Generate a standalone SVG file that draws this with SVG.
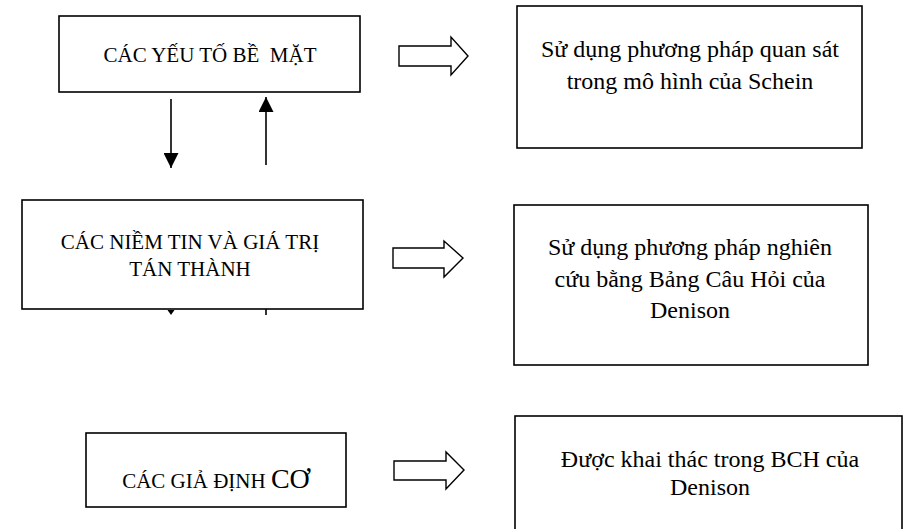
<svg xmlns="http://www.w3.org/2000/svg" width="908" height="529" viewBox="0 0 908 529">
<style>
.box{fill:#fff;stroke:#000;stroke-width:1.6}
.t{font-family:"Liberation Serif","Times New Roman",serif;fill:#000;text-anchor:middle;white-space:pre}
.caps{font-size:21px}
.body{font-size:24px}
.blk{fill:#fff;stroke:#000;stroke-width:1.4;stroke-linejoin:miter}
.ln{stroke:#000;stroke-width:1.6;fill:none}
</style>
<defs>
<marker id="ah" viewBox="0 0 10 10" refX="10" refY="5" markerWidth="15" markerHeight="15" markerUnits="userSpaceOnUse" orient="auto">
<path d="M0,0 L10,5 L0,10 z" fill="#000"/>
</marker>
</defs>
<rect width="908" height="529" fill="#fff"/>
<g id="n-surface">
<rect class="box" x="59" y="16" width="301" height="76"/>
<text class="t caps" x="210" y="62">CÁC YẾU TỐ BỀ  MẶT</text>
</g>
<g id="n-schein">
<rect class="box" x="517" y="6" width="345" height="142"/>
<text class="t body" x="690" y="57">Sử dụng phương pháp quan sát</text>
<text class="t body" x="690" y="89">trong mô hình của Schein</text>
</g>
<g id="n-beliefs">
<rect class="box" x="22" y="200" width="341" height="109"/>
<text class="t caps" x="190" y="249">CÁC NIỀM TIN VÀ GIÁ TRỊ</text>
<text class="t caps" x="190" y="276">TÁN THÀNH</text>
</g>
<g id="n-denison1">
<rect class="box" x="514" y="205" width="354" height="160"/>
<text class="t body" x="690" y="255">Sử dụng phương pháp nghiên</text>
<text class="t body" x="690" y="287">cứu bằng Bảng Câu Hỏi của</text>
<text class="t body" x="690" y="318">Denison</text>
</g>
<g id="n-assumptions">
<rect class="box" x="86" y="433" width="260" height="74"/>
<text class="t" x="216" y="488"><tspan style="font-size:21px">CÁC GIẢ ĐỊNH </tspan><tspan style="font-size:28px">CƠ</tspan></text>
</g>
<g id="n-denison2">
<rect class="box" x="515" y="416" width="387" height="130"/>
<text class="t body" x="710" y="467">Được khai thác trong BCH của</text>
<text class="t body" x="710" y="495">Denison</text>
</g>
<g id="connectors">
<line class="ln" x1="171" y1="99" x2="171" y2="168" marker-end="url(#ah)"/>
<line class="ln" x1="266" y1="165" x2="266" y2="97" marker-end="url(#ah)"/>
<path d="M167.5,310 L174.5,310 L171,315 z" fill="#000"/>
<line class="ln" x1="266" y1="309" x2="266" y2="315"/>
<path class="blk" d="M399,46 L451,46 L451,37 L468,56 L451,75 L451,66 L399,66 z"/>
<path class="blk" d="M393,248 L444,248 L444,241 L463,258 L444,277 L444,268 L393,268 z"/>
<path class="blk" d="M394,461 L446,461 L446,452 L464,470 L446,489 L446,480 L394,480 z"/>
</g>
</svg>
